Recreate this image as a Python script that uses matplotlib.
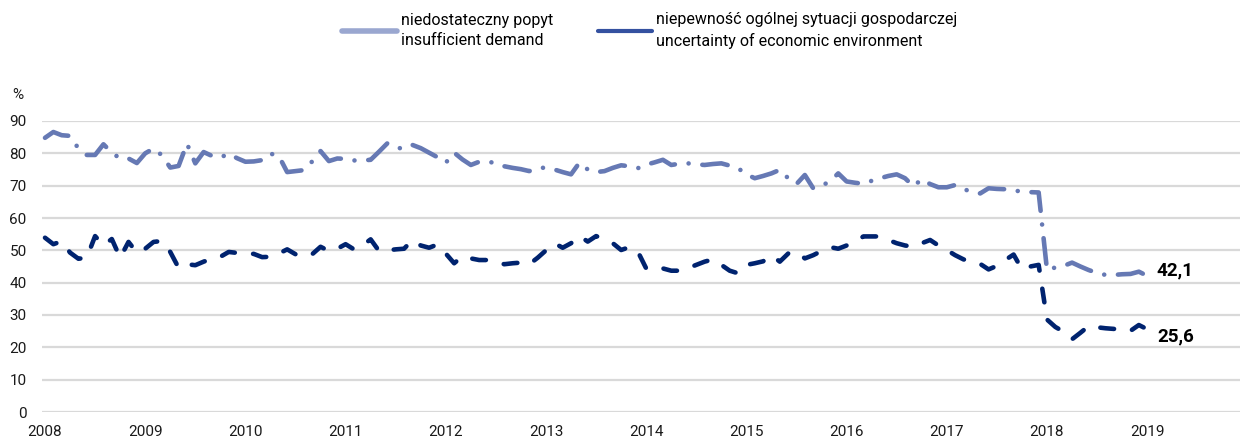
# Libraries
import numpy as np
import matplotlib.pyplot as plt
from matplotlib.lines import Line2D

plt.rcParams['font.family'] = ['Roboto', 'DejaVu Sans']

# Monthly data, January 2008 - January 2019 (%)
start_year = 2008
insufficient_demand = [
    84.8, 86.6, 85.6, 85.4, 81.5, 79.5, 79.5, 82.8, 80.2, 78.4, 78.4, 77.0,
    80.0, 81.5, 79.4, 75.6, 76.1, 83.0, 76.9, 80.4, 79.2, 78.7, 79.9, 78.5,
    77.4, 77.5, 77.9, 79.9, 79.2, 74.2, 74.5, 74.8, 77.5, 80.7, 77.6, 78.4,
    78.3, 77.8, 77.8, 78.0, 80.5, 83.1, 81.8, 81.4, 82.6, 81.6, 80.2, 78.8,
    77.1, 80.2, 78.1, 76.4, 77.4, 77.4, 77.0, 76.0, 75.5, 75.1, 74.5, 75.4,
    75.6, 75.0, 74.2, 73.5, 77.1, 75.0, 74.2, 74.5, 75.5, 76.3, 76.0, 75.4,
    76.5, 77.2, 78.0, 76.4, 76.8, 76.9, 76.6, 76.4, 76.7, 76.9, 76.2, 75.4,
    73.5, 72.3, 73.0, 73.8, 74.9, 72.3, 70.5, 73.3, 69.2, 70.0, 71.3, 73.8,
    71.3, 70.9, 70.6, 71.5, 72.3, 73.0, 73.5, 72.3, 69.8, 72.0, 70.5, 69.5,
    69.5, 70.2, 69.0, 68.0, 67.6, 69.2, 69.0, 68.9, 68.5, 68.2, 68.0, 67.9,
    43.9, 44.7, 45.2, 46.2, 45.0, 43.9, 43.0, 42.4, 42.4, 42.6, 42.7, 43.4,
    42.1,
]
uncertainty = [
    53.9, 51.9, 52.8, 49.3, 47.4, 47.7, 54.4, 51.5, 53.5, 47.7, 52.6, 49.3,
    50.5, 52.6, 52.9, 49.5, 44.6, 45.7, 45.4, 46.5, 47.4, 48.0, 49.5, 49.2,
    49.0, 48.9, 47.9, 48.0, 49.0, 50.3, 48.8, 49.5, 48.8, 51.1, 49.8, 50.5,
    51.9, 50.3, 51.5, 53.4, 49.8, 50.0, 50.3, 50.5, 53.2, 51.5, 50.8, 51.8,
    49.0, 46.0, 48.2, 47.5, 47.0, 47.0, 46.5, 45.7, 46.0, 46.2, 45.7, 47.7,
    50.0, 52.2, 50.8, 52.2, 54.5, 52.7, 54.4, 53.5, 52.2, 50.1, 51.0, 49.6,
    44.4, 44.8, 44.4, 43.7, 43.7, 44.5, 45.5, 46.5, 47.2, 45.5, 43.7, 42.9,
    45.5, 46.0, 46.6, 48.5, 46.5, 49.0, 49.6, 47.5, 48.5, 49.8, 51.0, 50.5,
    51.5, 52.4, 54.3, 54.3, 54.3, 53.2, 52.2, 51.5, 51.1, 52.2, 53.2, 51.5,
    50.1, 48.5, 47.2, 46.5, 45.8, 44.1, 45.2, 47.0, 48.7, 44.1, 45.0, 45.5,
    28.6, 26.3, 24.8, 22.5, 24.5, 26.6, 26.2, 25.9, 25.7, 25.4, 25.1, 26.9,
    25.6,
]
years = list(range(2008, 2020))
legend_labels = ['niedostateczny popyt\ninsufficient demand',
                 'niepewność ogólnej sytuacji gospodarczej\nuncertainty of economic environment']

months = start_year + np.arange(len(insufficient_demand)) / 12

light = '#6679b4'
dark = '#00236f'

fig = plt.figure(figsize=(12.4, 4.43), dpi=100)
ax = fig.add_axes([42 / 1240, 31 / 443, 1 - 42 / 1240, 291 / 443])

lw = 3.3
ax.plot(months, insufficient_demand, color=light, lw=lw,
        ls=(0, (5.6, 3.0, 0.01, 3.0)), dash_capstyle='round',
        solid_capstyle='round', clip_on=False, zorder=3)
ax.plot(months, uncertainty, color=dark, lw=lw,
        ls=(0, (3.0, 4.0)), dash_capstyle='round',
        solid_capstyle='round', clip_on=False, zorder=3)

# End-of-series value labels
ax.annotate(f'{insufficient_demand[-1]:.1f}'.replace('.', ','),
            (months[-1], insufficient_demand[-1]), xytext=(7, 4),
            textcoords='offset points', va='center', ha='left',
            fontsize=13.5, fontweight='bold')
ax.annotate(f'{uncertainty[-1]:.1f}'.replace('.', ','),
            (months[-1], uncertainty[-1]), xytext=(7, -5),
            textcoords='offset points', va='center', ha='left',
            fontsize=13.5, fontweight='bold')

ax.set_xlim(2008 - 3 / 100.2, 2008 + 1195 / 100.2)
ax.set_ylim(0, 90)
ax.set_yticks(range(0, 91, 10))
ax.set_xticks(years)
ax.set_xticklabels([str(y) for y in years])
ax.grid(axis='y', color='#d9d9d9', lw=1.6)
ax.set_axisbelow(True)
for s in ax.spines.values():
    s.set_visible(False)
ax.tick_params(axis='both', length=0, labelsize=11, colors='#1a1a1a')
ax.tick_params(axis='y', pad=11)
ax.tick_params(axis='x', pad=9.5)

fig.text(18 / 1240, 1 - 95 / 443, '%', ha='center', va='center',
         fontsize=11, color='#1a1a1a')

handles = [Line2D([], [], color='#9aa7d0', lw=4.0, solid_capstyle='round'),
           Line2D([], [], color='#3451a0', lw=3.0, solid_capstyle='round')]
leg = fig.legend(handles, legend_labels, loc='upper center', ncol=2,
                 bbox_to_anchor=(0.524, 0.995), frameon=False, fontsize=11.5,
                 handlelength=3.4, handletextpad=0.25, columnspacing=2.8,
                 labelspacing=0.2, borderaxespad=0.2)
for t in leg.get_texts():
    t.set_linespacing(1.45)

fig.savefig('out.png', dpi=100)
